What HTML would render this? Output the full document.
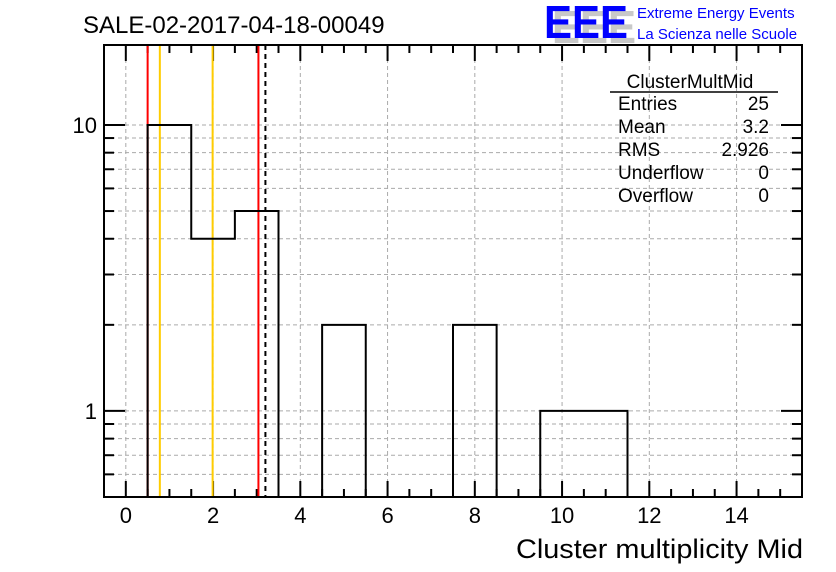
<!DOCTYPE html>
<html><head><meta charset="utf-8"><style>
body{margin:0;background:#fff;}
svg{display:block;font-family:"Liberation Sans",sans-serif;}
</style></head><body>
<svg id="c" width="836" height="572">
<text x="83" y="33" font-size="24">SALE-02-2017-04-18-00049</text>
<g>
<text x="552" y="43" font-size="46" font-weight="bold" fill="#c8c8c8" textLength="84" lengthAdjust="spacingAndGlyphs">EEE</text>
<text x="544" y="38" font-size="46" font-weight="bold" fill="#0000ff" textLength="84" lengthAdjust="spacingAndGlyphs">EEE</text>
<text x="637" y="18" font-size="15" fill="#0000ff">Extreme Energy Events</text>
<text x="637" y="39" font-size="15" fill="#0000ff">La Scienza nelle Scuole</text>
</g>
<g id="grid"></g><g id="axes"></g><g id="marks"></g>
<g font-size="19">
<text x="690" y="88" text-anchor="middle">ClusterMultMid</text>
<line x1="610" y1="92" x2="778" y2="92" stroke="#000" stroke-width="1.5"/>
<text x="618" y="110">Entries</text><text x="769" y="110" text-anchor="end">25</text>
<text x="618" y="133">Mean</text><text x="769" y="133" text-anchor="end">3.2</text>
<text x="618" y="156">RMS</text><text x="769" y="156" text-anchor="end">2.926</text>
<text x="618" y="179">Underflow</text><text x="769" y="179" text-anchor="end">0</text>
<text x="618" y="202">Overflow</text><text x="769" y="202" text-anchor="end">0</text>
</g>
<text x="803" y="558" font-size="27" text-anchor="end" textLength="287" lengthAdjust="spacingAndGlyphs">Cluster multiplicity Mid</text>
</svg>
<script>
const binCenters=[0,1,2,3,4,5,6,7,8,9,10,11,12,13,14,15];
const binCounts=[0,10,4,5,0,2,0,0,2,0,1,1,0,0,0,0];
const xTickLabels=[0,2,4,6,8,10,12,14];
const yTickLabels=[1,10];
const redLines=[0.5,3.04];
const orangeLines=[0.78,1.99];
const meanValue=[3.2];
const L=104,R=802,T=45,B=497,XMIN=-0.5,XMAX=15.5,YMIN=0.5,YMAX=19.04;
const NS='http://www.w3.org/2000/svg';
function X(v){return L+(v-XMIN)/(XMAX-XMIN)*(R-L);}
function Y(v){return B-(Math.log10(v)-Math.log10(YMIN))/(Math.log10(YMAX)-Math.log10(YMIN))*(B-T);}
function mk(p,t,a){const e=document.createElementNS(NS,t);for(const k in a)e.setAttribute(k,a[k]);document.getElementById(p).appendChild(e);return e;}
for(const v of xTickLabels){const e=mk('grid','line',{x1:X(v),x2:X(v),y1:T,y2:B,stroke:'#aaa','stroke-dasharray':'4,3'});

}
const yMinor=[];for(let d=0.1;d<=10;d*=10)for(let k=1;k<10;k++){const v=+(k*d).toFixed(6);if(v>=YMIN&&v<=YMAX)yMinor.push(v);}
for(const v of yMinor){const e=mk('grid','line',{x1:L,x2:R,y1:Y(v),y2:Y(v),stroke:'#aaa','stroke-dasharray':'4,3'});

}
for(const v of redLines){const e=mk('marks','line',{x1:X(v),x2:X(v),y1:T,y2:B,stroke:'#ff0000','stroke-width':2});

}
for(const v of orangeLines){const e=mk('marks','line',{x1:X(v),x2:X(v),y1:T,y2:B,stroke:'#ffcc00','stroke-width':2});

}
for(const v of meanValue){const e=mk('marks','line',{x1:X(v),x2:X(v),y1:T,y2:B,stroke:'#000','stroke-width':2,'stroke-dasharray':'5,4'});

}
let d='',prevY=B;
for(let i=0;i<binCenters.length;i++){const x0=X(binCenters[i]-0.5),x1=X(binCenters[i]+0.5);const y=binCounts[i]>0?Y(binCounts[i]):B;
d+=(i===0?`M${x0},${y}`:`L${x0},${prevY}L${x0},${y}`)+`L${x1},${y}`;prevY=y;}
const h=mk('marks','path',{d:d,fill:'none',stroke:'#000','stroke-width':2});


const f=mk('marks','rect',{x:L,y:T,width:R-L,height:B-T,fill:'none',stroke:'#000','stroke-width':2});


for(let v=0;v<=15.001;v+=0.5){const maj=Math.abs(v%2)<1e-6,len=maj?16:8;
mk('axes','line',{x1:X(v),x2:X(v),y1:B,y2:B-len,stroke:'#000','stroke-width':2});
mk('axes','line',{x1:X(v),x2:X(v),y1:T,y2:T+len,stroke:'#000','stroke-width':2});}
for(const v of xTickLabels){const t=mk('marks','text',{x:X(v),y:523,'font-size':22,'text-anchor':'middle'});t.textContent=v;

}
for(const v of yMinor){const maj=yTickLabels.includes(v),len=maj?21:10;
mk('axes','line',{x1:L,x2:L+len,y1:Y(v),y2:Y(v),stroke:'#000','stroke-width':2});
mk('axes','line',{x1:R,x2:R-len,y1:Y(v),y2:Y(v),stroke:'#000','stroke-width':2});}
for(const v of yTickLabels){const t=mk('marks','text',{x:97,y:Y(v)+8,'font-size':22,'text-anchor':'end'});t.textContent=v;

}
</script>
</body></html>
